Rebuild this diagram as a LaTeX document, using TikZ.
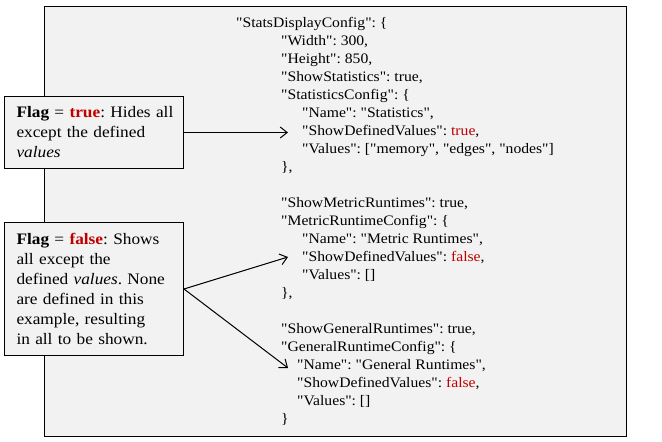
\documentclass[tikz,border=0pt]{standalone}
\usepackage{fontspec}
\setmainfont{Liberation Serif}[Ligatures=TeXOff, FakeStretch=1.08]
\usepackage{xcolor}
\usetikzlibrary{arrows.meta,positioning}
\definecolor{panelColor}{RGB}{242, 242, 242}
\definecolor{flagColor}{RGB}{192, 0, 0}

\tikzset{
    panel/.style={draw=black, line width=1.2pt, fill=panelColor, inner sep=0pt},
    flagbox/.style={draw=black, line width=1pt, fill=panelColor, text width=155pt,
        align=left, inner xsep=12pt, inner ysep=0pt, anchor=north west,
        font=\fontsize{16}{20}\selectfont\frenchspacing},
    codeline/.style={anchor=base west, inner sep=0pt, font=\fontsize{14.5}{18}\selectfont\frenchspacing},
    pointer/.style={-{Straight Barb[length=7pt,width=11pt]}, line width=1pt},
}

\begin{document}
\begin{tikzpicture}[x=1pt, y=-1pt]
            \useasboundingbox (0,0) rectangle (662,442);

            % Config panel
            \node[panel, minimum width=582pt, minimum height=430pt, anchor=north west] (config) at (44,6) {};

            % First block
            \node[codeline] (lStats) at (236,27) {"StatsDisplayConfig": \{};
            \node[codeline] (lWidth) at (281,45) {"Width": 300,};
            \node[codeline] (lHeight) at (281,63) {"Height": 850,};
            \node[codeline] (lShowStats) at (281,81) {"ShowStatistics": true,};
            \node[codeline] (lStatsCfg) at (281,99) {"StatisticsConfig": \{};
            \node[codeline] (lStatsName) at (302,117) {"Name": "Statistics",};
            \node[codeline] (lStatsDef) at (302,135) {"ShowDefinedValues": \textcolor{flagColor}{true},};
            \node[codeline] (lStatsVal) at (302,153) {"Values": ["memory", "edges", "nodes"]};
            \node[codeline] (lStatsEnd) at (281,171) {\},};

            % Second block
            \node[codeline] (lShowMetric) at (281,207) {"ShowMetricRuntimes": true,};
            \node[codeline] (lMetricCfg) at (281,225) {"MetricRuntimeConfig": \{};
            \node[codeline] (lMetricName) at (302,243) {"Name": "Metric Runtimes",};
            \node[codeline] (lMetricDef) at (302,261) {"ShowDefinedValues": \textcolor{flagColor}{false},};
            \node[codeline] (lMetricVal) at (302,279) {"Values": []};
            \node[codeline] (lMetricEnd) at (281,297) {\},};

            % Third block
            \node[codeline] (lShowGeneral) at (281,333) {"ShowGeneralRuntimes": true,};
            \node[codeline] (lGeneralCfg) at (281,351) {"GeneralRuntimeConfig": \{};
            \node[codeline] (lGeneralName) at (297,369) {"Name": "General Runtimes",};
            \node[codeline] (lGeneralDef) at (297,387) {"ShowDefinedValues": \textcolor{flagColor}{false},};
            \node[codeline] (lGeneralVal) at (297,405) {"Values": []};
            \node[codeline] (lGeneralEnd) at (281,423) {\}};

            % Flag notes
            \node[flagbox, minimum height=72pt] (flagTrue) at (4,96) {
                \mbox{\textbf{Flag} = \textbf{\color{flagColor}true}: Hides all}\\
                except the defined\\
                \textit{values}
            };
            \node[flagbox, minimum height=133pt] (flagFalse) at (4,222) {
                \textbf{Flag} = \textbf{\color{flagColor}false}: Shows\\
                all except the\\
                defined \textit{values}. None\\
                are defined in this\\
                example, resulting\\
                in all to be shown.
            };

            % Pointers
            \coordinate (tipStats) at (288,132.5);
            \coordinate (tipMetric) at (288,257);
            \coordinate (tipGeneral) at (288,368);
            \draw[pointer] (flagTrue.east) -- (tipStats);
            \draw[pointer] (flagFalse.east) -- (tipMetric);
            \draw[pointer] (flagFalse.east) -- (tipGeneral);
        \end{tikzpicture}
\end{document}
